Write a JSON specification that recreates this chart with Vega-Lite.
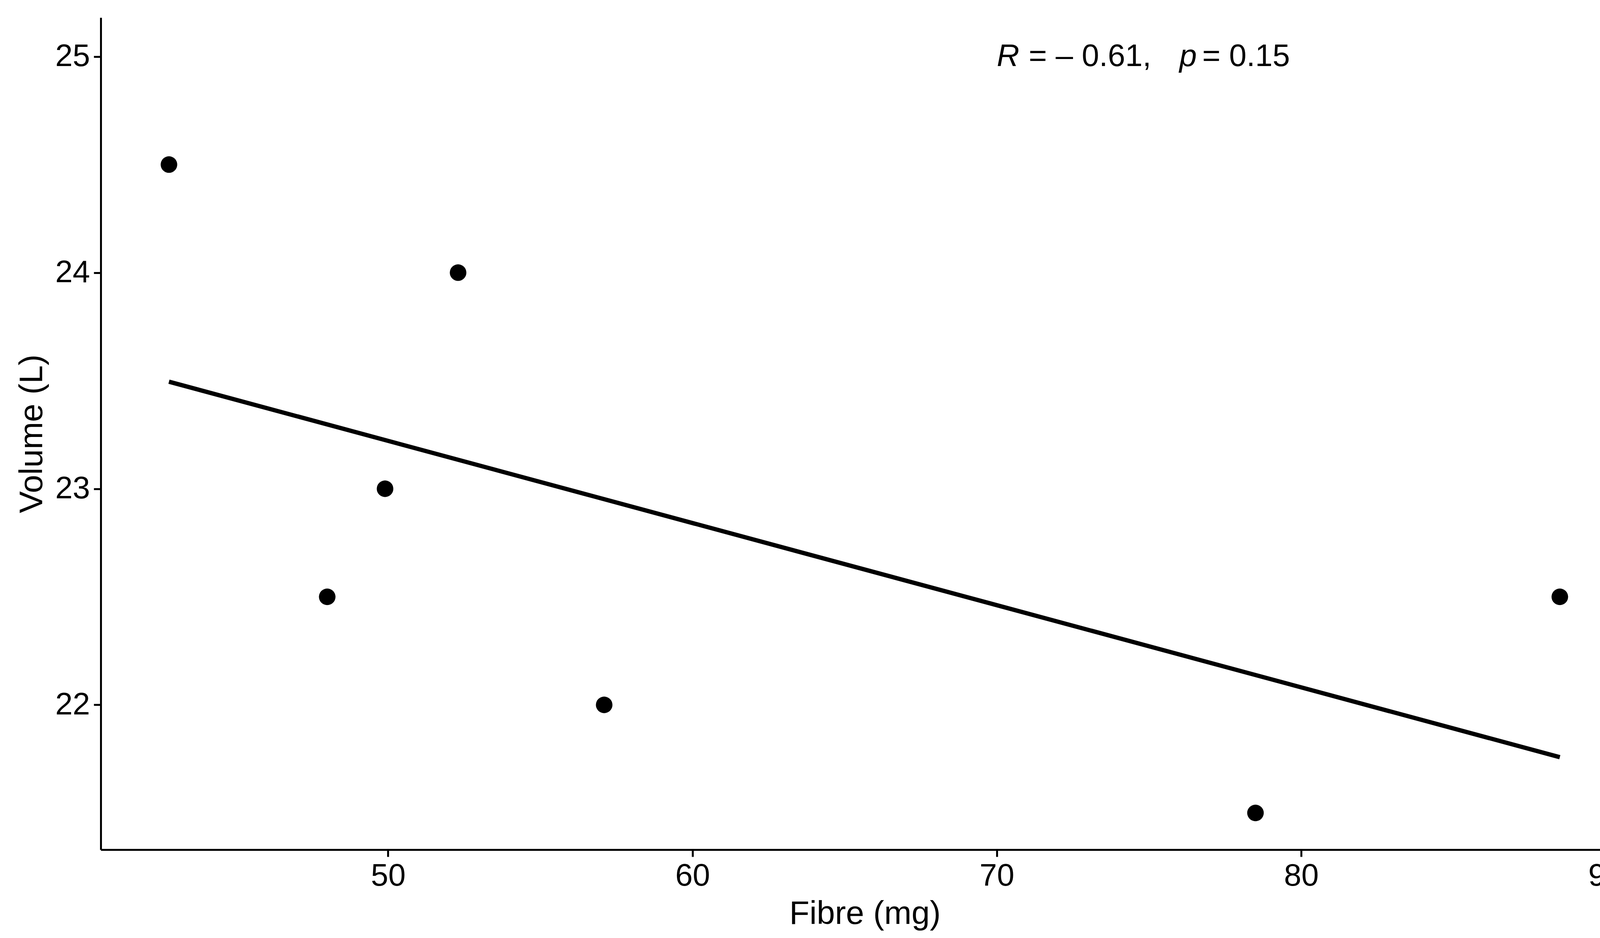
{
"$schema":"https://vega.github.io/schema/vega-lite/v6.json",
"autosize":{"type":"fit","contains":"padding"},
"width":4200,"height":2400,
"padding":{"left":40,"top":45,"right":30,"bottom":20},
"background":"white",
"config":{"view":{"stroke":null},"axis":{"grid":false,"domainColor":"black","domainWidth":5,"tickColor":"black","tickWidth":5,"tickSize":18,"labelFont":"Liberation Sans","labelFontSize":80,"labelColor":"black","labelPadding":10,"labelOverlap":false,"titleFont":"Liberation Sans","titleFontSize":84,"titleFontWeight":"normal","titleColor":"black","titlePadding":16}},
"data":{"values":[
{"fibre":42.8,"volume":24.5},{"fibre":48.0,"volume":22.5},{"fibre":49.9,"volume":23.0},{"fibre":52.3,"volume":24.0},{"fibre":57.1,"volume":22.0},{"fibre":78.5,"volume":21.5},{"fibre":88.5,"volume":22.5}]},
"layer":[
{"mark":{"type":"circle","size":1800,"color":"black","opacity":1},
"encoding":{"x":{"field":"fibre","type":"quantitative","title":"Fibre (mg)","scale":{"domain":[40.56,90.77],"nice":false},"axis":{"values":[50,60,70,80,90],"format":"d"}},
"y":{"field":"volume","type":"quantitative","title":"Volume (L)","scale":{"domain":[21.33,25.18],"nice":false,"zero":false},"axis":{"values":[22,23,24,25],"format":"d"}}}},
{"transform":[{"regression":"volume","on":"fibre"}],
"mark":{"type":"line","color":"black","strokeWidth":11},
"encoding":{"x":{"field":"fibre","type":"quantitative"},"y":{"field":"volume","type":"quantitative"}}},
{"data":{"values":[{"x":70,"y":25,"t":"R"},{"x":76.0,"y":25,"t":"p"}]},
"mark":{"type":"text","align":"left","baseline":"middle","font":"Liberation Sans","fontSize":80,"fontStyle":"italic","color":"black"},
"encoding":{"x":{"field":"x","type":"quantitative"},"y":{"field":"y","type":"quantitative"},"text":{"field":"t"}}},
{"data":{"values":[{"x":71.05,"y":25,"t":"= – 0.61,"},{"x":76.75,"y":25,"t":"= 0.15"}]},
"mark":{"type":"text","align":"left","baseline":"middle","font":"Liberation Sans","fontSize":80,"color":"black"},
"encoding":{"x":{"field":"x","type":"quantitative"},"y":{"field":"y","type":"quantitative"},"text":{"field":"t"}}}
]}
